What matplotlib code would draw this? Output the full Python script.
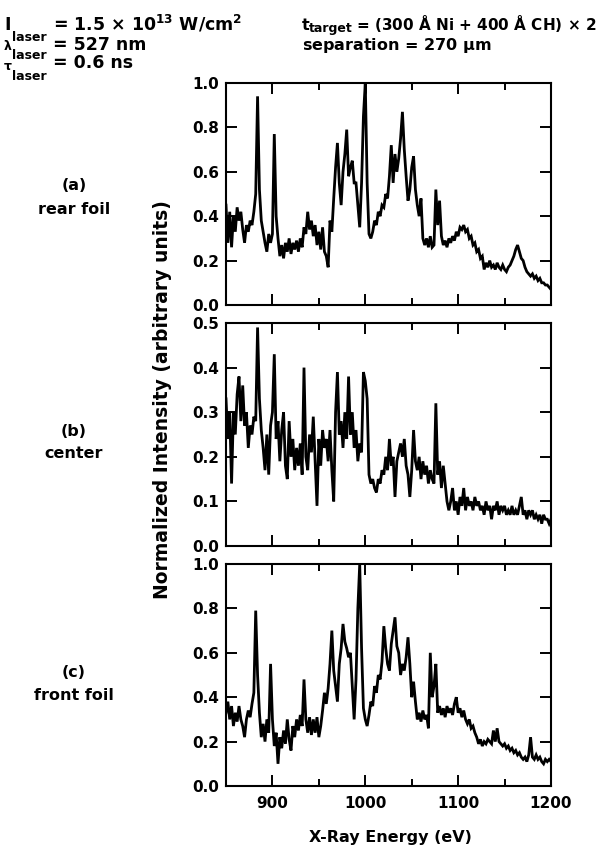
import numpy as np
import matplotlib
matplotlib.use("Agg")
import matplotlib.pyplot as plt

plt.rcParams['font.family'] = ['DejaVu Sans']
plt.rcParams['font.weight'] = 'bold'
plt.rcParams['mathtext.default'] = 'bf'

# ---------------- data ----------------
energy = np.arange(850, 1201, 2)  # eV

rear_foil = [
    0.45, 0.28, 0.42, 0.26, 0.40, 0.33, 0.44, 0.38, 0.42, 0.34,   # 850-868
    0.28, 0.36, 0.33, 0.38, 0.36, 0.42, 0.50, 0.94, 0.52, 0.38,   # 870-888
    0.33, 0.28, 0.24, 0.32, 0.28, 0.32, 0.77, 0.40, 0.30, 0.22,   # 890-908
    0.27, 0.21, 0.28, 0.24, 0.30, 0.23, 0.28, 0.25, 0.29, 0.24,   # 910-928
    0.30, 0.26, 0.35, 0.32, 0.42, 0.34, 0.38, 0.31, 0.36, 0.27,   # 930-948
    0.33, 0.25, 0.35, 0.24, 0.22, 0.17, 0.38, 0.33, 0.48, 0.62,   # 950-968
    0.73, 0.55, 0.45, 0.60, 0.68, 0.79, 0.58, 0.62, 0.65, 0.55,   # 970-988
    0.55, 0.45, 0.35, 0.55, 0.85, 1.00, 0.55, 0.32, 0.30, 0.33,   # 990-1008
    0.38, 0.36, 0.42, 0.40, 0.45, 0.44, 0.50, 0.48, 0.58, 0.72,   # 1010-1028
    0.55, 0.68, 0.60, 0.66, 0.75, 0.87, 0.70, 0.58, 0.47, 0.52,   # 1030-1048
    0.62, 0.67, 0.52, 0.45, 0.40, 0.48, 0.30, 0.27, 0.30, 0.26,   # 1050-1068
    0.31, 0.26, 0.27, 0.52, 0.36, 0.47, 0.31, 0.27, 0.29, 0.26,   # 1070-1088
    0.30, 0.28, 0.31, 0.29, 0.33, 0.31, 0.35, 0.34, 0.36, 0.33,   # 1090-1108
    0.34, 0.30, 0.31, 0.27, 0.28, 0.24, 0.25, 0.21, 0.22, 0.16,   # 1110-1128
    0.19, 0.17, 0.20, 0.17, 0.18, 0.16, 0.19, 0.17, 0.16, 0.18,   # 1130-1148
    0.16, 0.15, 0.17, 0.18, 0.20, 0.22, 0.25, 0.27, 0.24, 0.21,   # 1150-1168
    0.20, 0.17, 0.15, 0.14, 0.13, 0.14, 0.12, 0.13, 0.11, 0.12,   # 1170-1188
    0.10, 0.10, 0.09, 0.09, 0.08, 0.07,                           # 1190-1200
]

center = [
    0.33, 0.24, 0.30, 0.14, 0.30, 0.25, 0.34, 0.38, 0.28, 0.36,
    0.27, 0.30, 0.22, 0.27, 0.25, 0.29, 0.28, 0.49, 0.33, 0.26,
    0.22, 0.17, 0.25, 0.16, 0.27, 0.30, 0.43, 0.24, 0.28, 0.19,
    0.26, 0.30, 0.18, 0.15, 0.28, 0.20, 0.24, 0.17, 0.22, 0.18,
    0.23, 0.16, 0.40, 0.20, 0.17, 0.25, 0.21, 0.29, 0.19, 0.09,
    0.24, 0.18, 0.26, 0.22, 0.24, 0.19, 0.26, 0.17, 0.10, 0.30,
    0.39, 0.25, 0.28, 0.22, 0.30, 0.24, 0.38, 0.25, 0.30, 0.22,
    0.26, 0.19, 0.23, 0.21, 0.39, 0.37, 0.33, 0.16, 0.14, 0.15,
    0.13, 0.12, 0.15, 0.14, 0.17, 0.16, 0.20, 0.17, 0.24, 0.18,
    0.20, 0.11, 0.19, 0.21, 0.23, 0.20, 0.24, 0.18, 0.16, 0.11,
    0.17, 0.26, 0.19, 0.17, 0.20, 0.15, 0.19, 0.16, 0.18, 0.14,
    0.17, 0.15, 0.14, 0.32, 0.16, 0.19, 0.13, 0.18, 0.14, 0.10,
    0.08, 0.10, 0.13, 0.08, 0.10, 0.07, 0.11, 0.09, 0.13, 0.08,
    0.11, 0.09, 0.10, 0.08, 0.11, 0.09, 0.10, 0.08, 0.09, 0.07,
    0.10, 0.08, 0.09, 0.06, 0.09, 0.08, 0.10, 0.07, 0.09, 0.08,
    0.09, 0.07, 0.08, 0.07, 0.09, 0.07, 0.08, 0.07, 0.09, 0.11,
    0.07, 0.08, 0.06, 0.08, 0.07, 0.08, 0.06, 0.07, 0.06, 0.07,
    0.05, 0.07, 0.06, 0.06, 0.05, 0.06,
]

front_foil = [
    0.33, 0.38, 0.30, 0.36, 0.27, 0.33, 0.29, 0.36, 0.30, 0.27,
    0.22, 0.30, 0.34, 0.31, 0.37, 0.42, 0.79, 0.50, 0.33, 0.22,
    0.28, 0.20, 0.30, 0.24, 0.55, 0.30, 0.18, 0.24, 0.10, 0.22,
    0.17, 0.25, 0.19, 0.30, 0.21, 0.16, 0.27, 0.22, 0.30, 0.25,
    0.32, 0.27, 0.48, 0.30, 0.24, 0.31, 0.23, 0.30, 0.24, 0.31,
    0.22, 0.27, 0.34, 0.42, 0.37, 0.44, 0.55, 0.70, 0.52, 0.45,
    0.38, 0.55, 0.62, 0.73, 0.65, 0.62, 0.58, 0.60, 0.45, 0.30,
    0.48, 0.80, 1.00, 0.62, 0.35, 0.30, 0.27, 0.32, 0.38, 0.36,
    0.45, 0.42, 0.50, 0.48, 0.56, 0.72, 0.62, 0.55, 0.52, 0.64,
    0.70, 0.76, 0.63, 0.60, 0.50, 0.55, 0.52, 0.58, 0.67, 0.55,
    0.40, 0.47, 0.38, 0.30, 0.33, 0.29, 0.34, 0.30, 0.32, 0.26,
    0.60, 0.40, 0.45, 0.55, 0.33, 0.36, 0.32, 0.35, 0.31, 0.36,
    0.33, 0.35, 0.32, 0.37, 0.40, 0.33, 0.35, 0.31, 0.34, 0.30,
    0.28, 0.30, 0.26, 0.27, 0.24, 0.22, 0.19, 0.21, 0.18, 0.20,
    0.19, 0.21, 0.20, 0.19, 0.25, 0.20, 0.26, 0.20, 0.19, 0.18,
    0.19, 0.17, 0.18, 0.16, 0.17, 0.15, 0.16, 0.14, 0.15, 0.13,
    0.12, 0.13, 0.11, 0.14, 0.22, 0.13, 0.12, 0.14, 0.12, 0.13,
    0.11, 0.10, 0.12, 0.11, 0.12, 0.11,
]

series = [rear_foil, center, front_foil]
panel_tags = ["(a)", "(b)", "(c)"]
panel_names = ["rear foil", "center", "front foil"]
y_maxes = [1.0, 0.5, 1.0]
y_steps = [0.2, 0.1, 0.2]
x_major = [900, 1000, 1100, 1200]
x_minor = [950, 1050, 1150]
x_label = "X-Ray Energy (eV)"
y_label = "Normalized Intensity (arbitrary units)"

# ---------------- figure ----------------
W, H = 603, 847
fig = plt.figure(figsize=(W / 100, H / 100), dpi=100)

def px_axes(left, top, right, bottom):
    return fig.add_axes([left / W, 1 - bottom / H, (right - left) / W, (bottom - top) / H])

boxes = [(226, 83, 551, 305), (226, 323, 551, 546), (226, 564, 551, 786)]
label_y = [(186, 209), (431, 453), (672, 695)]

for i, (vals, box) in enumerate(zip(series, boxes)):
    ax = px_axes(*box)
    ax.plot(energy, vals, color='black', lw=2.0, solid_joinstyle='miter')
    ax.set_xlim(850, 1200)
    ax.set_ylim(0, y_maxes[i])
    yt = np.round(np.arange(0, y_maxes[i] + 1e-9, y_steps[i]), 2)
    ax.set_yticks(yt)
    ax.set_yticklabels([f"{v:.1f}" for v in yt])
    ax.set_xticks(x_major)
    ax.set_xticks(x_minor, minor=True)
    ax.tick_params(which='both', direction='in', top=True, right=True,
                   width=1.4, labelsize=11, colors='black')
    ax.tick_params(which='major', length=8, pad=5)
    ax.tick_params(which='minor', length=5)
    ax.tick_params(axis='x', pad=7)
    if i < 2:
        ax.set_xticklabels([])
    for s in ax.spines.values():
        s.set_linewidth(1.5)
    for lab in ax.get_xticklabels() + ax.get_yticklabels():
        lab.set_fontweight('bold')
    ty, ny = label_y[i]
    fig.text(74 / W, 1 - ty / H, panel_tags[i], ha='center', va='center', fontsize=11.5, fontweight='bold')
    fig.text(74 / W, 1 - ny / H, panel_names[i], ha='center', va='center', fontsize=11.5, fontweight='bold')

fig.text(162 / W, 1 - 400 / H, y_label, rotation=90, ha='center', va='center', fontsize=13.5, fontweight='bold')
fig.text(390 / W, 1 - 837 / H, x_label, ha='center', va='center', fontsize=11.5, fontweight='bold')

# header
def ftxt(x, y, s, size=12, **kw):
    fig.text(x / W, 1 - y / H, s, ha='left', va='baseline', fontsize=size, fontweight='bold', **kw)

ftxt(4, 30, "I", 12.5)
ftxt(12, 41, "laser", 9)
ftxt(53, 30, r"= 1.5 $\times$ 10$^{13}$ W/cm$^{2}$", 12.5)
ftxt(3, 50, r"$\lambda$", 9)
ftxt(12, 59, "laser", 9)
ftxt(53, 50, "= 527 nm", 12.5)
ftxt(3, 70, r"$\tau$", 9)
ftxt(12, 80, "laser", 9)
ftxt(53, 68, "= 0.6 ns", 12.5)
ftxt(302, 30, "t", 11.5)
ftxt(309, 32, "target", 9)
ftxt(356, 30, r"= (300 Å Ni + 400 Å CH) $\times$ 2", 11)
ftxt(302, 50, r"separation = 270 $\mu$m", 11.5)

fig.savefig("out.png", dpi=100)
